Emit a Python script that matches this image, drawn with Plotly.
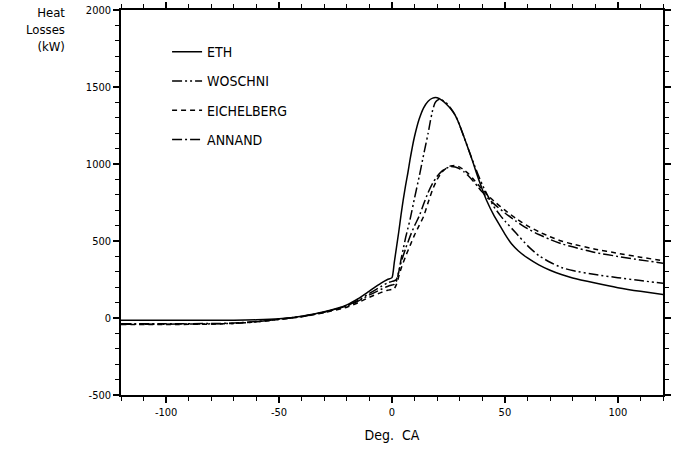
import plotly.graph_objects as go

# ---------------- data ----------------
eth_x = [-120, -100, -80, -70, -60, -50, -40, -30, -20, -15, -10, -5, -2, 0, 1, 2, 3, 4, 5, 6, 7, 8, 9, 10, 12, 14, 16, 18, 20, 22, 24, 26, 28, 30, 32, 34, 36, 38, 40, 42, 45, 48, 50, 53, 56, 60, 65, 70, 75, 80, 90, 100, 110, 120]
eth_y = [-15, -15, -15, -14, -12, -5, 12, 40, 85, 125, 175, 225, 250, 262, 360, 460, 560, 670, 770, 860, 940, 1030, 1110, 1180, 1290, 1365, 1408, 1428, 1430, 1415, 1390, 1358, 1315, 1250, 1170, 1090, 1005, 915, 835, 760, 670, 595, 545, 480, 435, 390, 345, 310, 282, 260, 227, 197, 173, 153]

wos_x = [-120, -100, -80, -70, -60, -50, -40, -30, -20, -15, -10, -5, -2, 0, 1, 2, 3, 4, 5, 6, 7, 8, 10, 12, 14, 15, 16, 17, 18, 19, 20, 21, 22, 24, 26, 28, 30, 32, 34, 36, 38, 40, 42, 45, 48, 50, 55, 60, 65, 70, 75, 80, 90, 100, 110, 120]
wos_y = [-40, -40, -38, -35, -25, -8, 10, 38, 80, 115, 160, 203, 228, 238, 242, 252, 300, 380, 450, 520, 580, 640, 780, 915, 1060, 1130, 1200, 1280, 1350, 1395, 1413, 1420, 1417, 1398, 1362, 1318, 1250, 1170, 1090, 1010, 935, 865, 805, 725, 665, 630, 550, 470, 405, 362, 328, 308, 282, 262, 243, 225]

eic_x = [-120, -100, -80, -70, -60, -50, -40, -30, -20, -15, -10, -5, -2, 0, 1, 2, 3, 4, 6, 8, 10, 12, 14, 16, 18, 20, 22, 24, 26, 28, 30, 32, 34, 36, 38, 40, 43, 46, 50, 55, 60, 65, 70, 75, 80, 90, 100, 110, 120]
eic_y = [-42, -42, -40, -35, -25, -10, 8, 35, 70, 100, 135, 165, 180, 186, 190, 220, 270, 320, 400, 470, 540, 600, 660, 750, 835, 900, 945, 973, 988, 990, 980, 960, 935, 902, 868, 835, 788, 748, 700, 645, 598, 560, 528, 500, 480, 447, 420, 395, 372]

ann_x = [-120, -100, -80, -70, -60, -50, -40, -30, -20, -15, -10, -5, -2, 0, 1, 2, 3, 4, 6, 8, 10, 12, 14, 16, 18, 20, 22, 24, 26, 28, 30, 32, 34, 36, 38, 40, 43, 46, 50, 55, 60, 65, 70, 75, 80, 90, 100, 110, 120]
ann_y = [-38, -38, -36, -33, -23, -8, 10, 37, 78, 110, 150, 185, 205, 214, 218, 240, 300, 360, 450, 530, 600, 660, 740, 815, 875, 920, 952, 972, 983, 980, 968, 948, 920, 888, 853, 818, 770, 730, 682, 628, 580, 542, 510, 482, 462, 425, 400, 377, 356]

x_tickvals = [-100, -50, 0, 50, 100]
x_ticktext = ["-100", "-50", "0", "50", "100"]
y_tickvals = [-500, 0, 500, 1000, 1500, 2000]
y_ticktext = ["-500", "0", "500", "1000", "1500", "2000"]
x_minor = [v for v in range(-120, 121, 10) if v not in x_tickvals]
y_minor = [v for v in range(-500, 2001, 100) if v not in y_tickvals]

FONT = "DejaVu Sans Condensed, Liberation Sans Narrow, Arial Narrow, sans-serif"

fig = go.Figure()
series = [
    ("ETH", eth_x, eth_y, "solid"),
    ("WOSCHNI", wos_x, wos_y, "10px,3px,2px,3px,2px,3px"),
    ("EICHELBERG", eic_x, eic_y, "5px,4px"),
    ("ANNAND", ann_x, ann_y, "10px,3px,2px,3px"),
]
for name, xs, ys, dash in series:
    fig.add_trace(go.Scatter(
        x=xs, y=ys, mode="lines", name=name, legendgroup=name,
        line=dict(color="black", width=1.5, dash=dash, shape="spline", smoothing=0.5),
    ))

axis_common = dict(
    showgrid=False, zeroline=False, showline=True, linecolor="black", linewidth=1.5,
    mirror="allticks", ticks="outside", ticklen=6, tickcolor="black", tickwidth=1.5,
    automargin=False,
    tickfont=dict(family=FONT, size=11, color="black"),
)
fig.update_xaxes(
    range=[-120, 120], tickmode="array", tickvals=x_tickvals, ticktext=x_ticktext,
    minor=dict(tickmode="array", tickvals=x_minor, ticks="outside", ticklen=4,
               tickcolor="black", tickwidth=1.3, showgrid=False),
    title=dict(text="Deg.  CA", font=dict(family=FONT, size=14, color="black"), standoff=12),
    **axis_common,
)
fig.update_yaxes(
    range=[-500, 2000], tickmode="array", tickvals=y_tickvals, ticktext=y_ticktext,
    minor=dict(tickmode="array", tickvals=y_minor, ticks="outside", ticklen=4,
               tickcolor="black", tickwidth=1.3, showgrid=False),
    **axis_common,
)

fig.add_annotation(
    text="Heat<br>Losses<br>(kW)", xref="paper", yref="paper", x=-0.1, y=1.018,
    xanchor="right", yanchor="top", align="right", showarrow=False,
    font=dict(family=FONT, size=13, color="black"),
)

fig.update_layout(
    width=676, height=450,
    margin=dict(l=121, r=13, t=10, b=55, autoexpand=False),
    paper_bgcolor="white", plot_bgcolor="white",
    showlegend=True,
    legend=dict(
        x=0.085, y=0.932, xanchor="left", yanchor="top",
        bgcolor="rgba(0,0,0,0)", borderwidth=0,
        font=dict(family=FONT, size=14, color="black"),
        traceorder="grouped", tracegroupgap=8,
    ),
)

fig.write_html("out.html")
